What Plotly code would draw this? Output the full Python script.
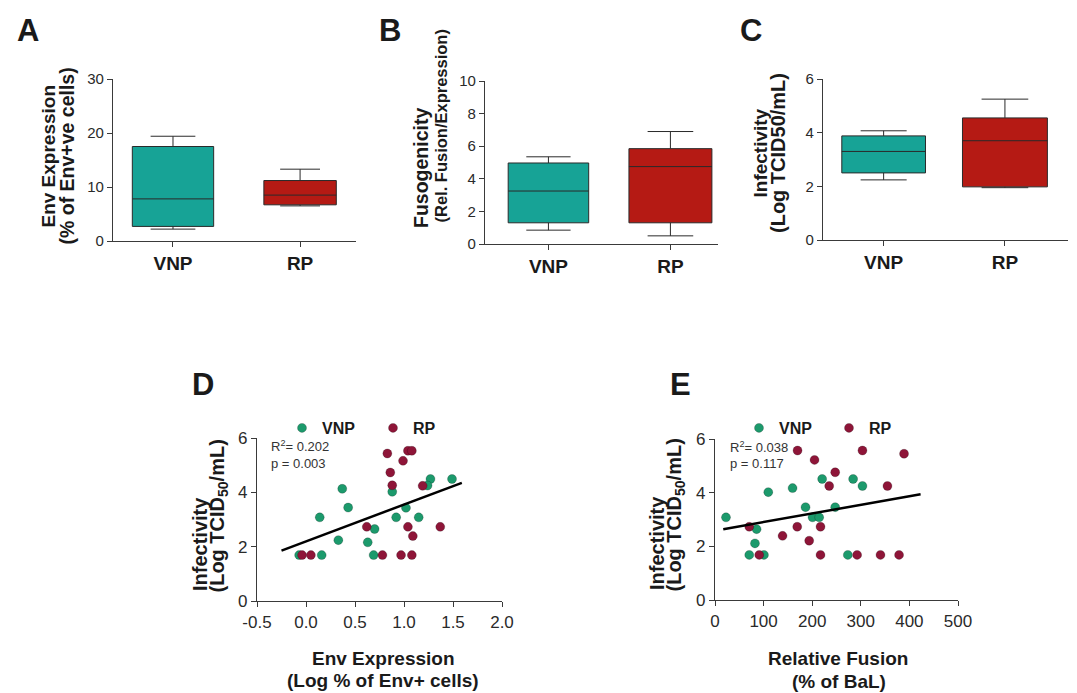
import plotly.graph_objects as go

W, H = 1077, 693
OFF = 8  # page body margin
FW, FH = W - OFF, H - OFF

# ---------------- data ----------------
groups = ["VNP", "RP"]

# Panel A: Env expression (% of Env+ve cells)  [lower, q1, median, q3, upper]
a_vnp = [2.2, 2.7, 7.8, 17.5, 19.4]
a_rp = [6.5, 6.7, 8.5, 11.2, 13.3]
# Panel B: Fusogenicity
b_vnp = [0.85, 1.3, 3.25, 4.97, 5.35]
b_rp = [0.5, 1.3, 4.75, 5.85, 6.9]
# Panel C: Infectivity (Log TCID50/mL)
c_vnp = [2.24, 2.5, 3.3, 3.88, 4.07]
c_rp = [1.95, 1.98, 3.7, 4.55, 5.25]

# Panel D: Env expression (log %) vs infectivity
d_vnp_x = [0.37, 0.43, 0.14, 0.16, 0.70, 0.63, 0.69, 0.88, 1.02, 0.92, 1.15, 1.27, 1.24, 1.49, -0.07, 0.33]
d_vnp_y = [4.13, 3.44, 3.08, 1.69, 2.65, 2.16, 1.69, 4.02, 3.43, 3.08, 3.08, 4.49, 4.25, 4.49, 1.69, 2.24]
d_rp_x = [0.83, 1.04, 1.08, 0.99, 0.86, 0.88, 1.19, 0.62, 1.04, 1.09, 1.37, -0.04, 0.05, 0.78, 0.97, 1.08]
d_rp_y = [5.43, 5.53, 5.53, 5.16, 4.73, 4.26, 4.24, 2.73, 2.73, 2.39, 2.73, 1.69, 1.69, 1.69, 1.69, 1.69]
d_fit = {"slope": 1.355, "intercept": 2.195, "x0": -0.25, "x1": 1.59}
d_stats = ["R<sup>2</sup>= 0.202", "p = 0.003"]

# Panel E: Relative fusion vs infectivity
e_vnp_x = [22.6, 109.6, 159.6, 186.3, 200.7, 214.4, 220.5, 247.3, 284.2, 303.4, 85.6, 82.2, 70.5, 100.7, 273.3]
e_vnp_y = [3.08, 4.02, 4.17, 3.46, 3.08, 3.08, 4.51, 3.46, 4.51, 4.25, 2.64, 2.11, 1.68, 1.68, 1.68]
e_rp_x = [169.8, 204.8, 303.4, 389.0, 247.3, 235.0, 354.8, 70.5, 139.0, 169.2, 217.1, 193.8, 91.0, 217.1, 292.4, 340.5, 378.7]
e_rp_y = [5.57, 5.22, 5.57, 5.45, 4.76, 4.25, 4.25, 2.73, 2.39, 2.73, 2.73, 2.21, 1.68, 1.68, 1.68, 1.68, 1.68]
e_fit = {"slope": 0.0032, "intercept": 2.585, "x0": 17.0, "x1": 423.0}
e_stats = ["R<sup>2</sup>= 0.038", "p = 0.117"]

d_xticks = [-0.5, 0.0, 0.5, 1.0, 1.5, 2.0]
d_xticktext = ["-0.5", "0.0", "0.5", "1.0", "1.5", "2.0"]
e_xticks = [0, 100, 200, 300, 400, 500]

# ---------------- style ----------------
TEAL = "#17a396"
RED = "#b51a14"
GREEN_PT = "#1c9a6c"
RED_PT = "#8e1538"
AX = "#3a3a3a"
FONT = "Liberation Sans, Arial, sans-serif"


def fx(px):
    return (px - OFF) / FW


def fy(py):
    return 1 - (py - OFF) / FH


def xdom(a, b):
    return [fx(a), fx(b)]


def ydom(top, bottom):
    return [fy(bottom), fy(top)]


fig = go.Figure()

box_panels = [
    ("x", "y", a_vnp, a_rp, 0.64, 0.57),
    ("x2", "y2", b_vnp, b_rp, 0.66, 0.68),
    ("x3", "y3", c_vnp, c_rp, 0.69, 0.70),
]
for xa, ya, vnp, rp, wv, wr in box_panels:
    for name, st, col, wd in (("VNP", vnp, TEAL, wv), ("RP", rp, RED, wr)):
        fig.add_trace(go.Box(
            x=[name], lowerfence=[st[0]], q1=[st[1]], median=[st[2]], q3=[st[3]], upperfence=[st[4]],
            fillcolor=col, line=dict(color="#2a2a2a", width=1), width=wd, whiskerwidth=0.55,
            xaxis=xa, yaxis=ya, showlegend=False, hoverinfo="skip"))

# scatter panels
for xs, ys, col, name, xa, ya, lg in (
    (d_vnp_x, d_vnp_y, GREEN_PT, "VNP", "x4", "y4", "legend"),
    (d_rp_x, d_rp_y, RED_PT, "RP", "x4", "y4", "legend"),
    (e_vnp_x, e_vnp_y, GREEN_PT, "VNP", "x5", "y5", "legend2"),
    (e_rp_x, e_rp_y, RED_PT, "RP", "x5", "y5", "legend2"),
):
    fig.add_trace(go.Scatter(x=xs, y=ys, mode="markers", name=name,
                             marker=dict(color=col, size=9, line=dict(width=0.6, color="rgba(0,0,0,0.35)")),
                             xaxis=xa, yaxis=ya, legend=lg, showlegend=True))

for fit, xa, ya in ((d_fit, "x4", "y4"), (e_fit, "x5", "y5")):
    lx = [fit["x0"], fit["x1"]]
    ly = [fit["intercept"] + fit["slope"] * v for v in lx]
    fig.add_trace(go.Scatter(x=lx, y=ly, mode="lines", line=dict(color="black", width=2.5),
                             xaxis=xa, yaxis=ya, showlegend=False, hoverinfo="skip"))

axis_common = dict(showline=True, linecolor=AX, linewidth=1.3, ticks="outside", ticklen=5,
                   tickcolor=AX, tickwidth=1.2, showgrid=False, zeroline=False, automargin=False,
                   tickfont=dict(family=FONT, size=15, color="#2a2a2a"))
cat_x = dict(axis_common, type="category", tickfont=dict(family=FONT, size=19, color="#1a1a1a", weight="bold"))
sc_font = dict(family=FONT, size=17, color="#2a2a2a")

fig.update_layout(
    xaxis=dict(cat_x, domain=xdom(113, 356), range=[-0.472, 1.44], anchor="y"),
    yaxis=dict(axis_common, domain=ydom(79, 241), range=[0, 30], tickvals=[0, 10, 20, 30], anchor="x"),
    xaxis2=dict(cat_x, domain=xdom(485, 718), range=[-0.52, 1.39], anchor="y2"),
    yaxis2=dict(axis_common, domain=ydom(81, 244), range=[0, 10], tickvals=[0, 2, 4, 6, 8, 10], anchor="x2"),
    xaxis3=dict(cat_x, domain=xdom(823, 1068), range=[-0.5, 1.52], anchor="y3"),
    yaxis3=dict(axis_common, domain=ydom(79, 240), range=[0, 6], tickvals=[0, 2, 4, 6], anchor="x3"),
    xaxis4=dict(axis_common, domain=xdom(257, 502), range=[-0.5, 2.0], tickvals=d_xticks,
                ticktext=d_xticktext, anchor="y4", tickfont=sc_font),
    yaxis4=dict(axis_common, domain=ydom(438, 601), range=[0, 6], tickvals=[0, 2, 4, 6], anchor="x4",
                tickfont=sc_font),
    xaxis5=dict(axis_common, domain=xdom(715, 958), range=[0, 500], tickvals=e_xticks, anchor="y5",
                tickfont=sc_font),
    yaxis5=dict(axis_common, domain=ydom(439, 600), range=[0, 6], tickvals=[0, 2, 4, 6], anchor="x5",
                tickfont=sc_font),
    boxmode="overlay",
    width=FW, height=FH, autosize=False,
    margin=dict(l=0, r=0, t=0, b=0, autoexpand=False),
    paper_bgcolor="white", plot_bgcolor="white",
    legend=dict(orientation="h", x=fx(282), y=fy(411), xanchor="left", yanchor="top",
                entrywidth=46, entrywidthmode="pixels", bgcolor="rgba(0,0,0,0)",
                font=dict(family=FONT, size=16, color="#1a1a1a", weight="bold")),
    legend2=dict(orientation="h", x=fx(739), y=fy(411), xanchor="left", yanchor="top",
                 entrywidth=45, entrywidthmode="pixels", bgcolor="rgba(0,0,0,0)",
                 font=dict(family=FONT, size=16, color="#1a1a1a", weight="bold")),
)

ann = []


def add_text(text, x, y, size, bold=False, angle=0, xanchor="center", yanchor="middle", color="#1a1a1a"):
    ann.append(dict(text=text, x=fx(x), y=fy(y), xref="paper", yref="paper", showarrow=False,
                    textangle=angle, xanchor=xanchor, yanchor=yanchor,
                    font=dict(family=FONT, size=size, color=color, weight="bold" if bold else "normal")))


# panel letters
for lt, x, y in (("A", 28, 30), ("B", 390, 31), ("C", 751, 30), ("D", 203, 384), ("E", 680, 384)):
    add_text(lt, x, y, 31, bold=True)

# y-axis titles (each line separately, start-aligned at bottom)
add_text("Env Expression", 48, 230, 19, True, -90, yanchor="bottom")
add_text("(% of Env+ve cells)", 67, 247, 19.5, True, -90, yanchor="bottom")
add_text("Fusogenicity", 421, 230, 19.5, True, -90, yanchor="bottom")
add_text("(Rel. Fusion/Expression)", 440, 225, 16.5, True, -90, yanchor="bottom")
add_text("Infectivity", 760, 200, 19, True, -90, yanchor="bottom")
add_text("(Log TCID50/mL)", 778, 235, 20, True, -90, yanchor="bottom")
add_text("Infectivity", 200, 593, 20, True, -90, yanchor="bottom")
add_text("(Log TCID<sub>50</sub>/mL)", 218, 595, 20, True, -90, yanchor="bottom")
add_text("Infectivity", 657, 592, 20, True, -90, yanchor="bottom")
add_text("(Log TCID<sub>50</sub>/mL)", 675, 594, 20, True, -90, yanchor="bottom")

# x-axis titles for scatter panels
add_text("Env Expression", 383, 658, 19, True)
add_text("(Log % of Env+ cells)", 383, 680, 19, True)
add_text("Relative Fusion", 838, 658, 19, True)
add_text("(% of BaL)", 839, 681, 19, True)

# statistics
add_text(d_stats[0], 269, 446, 13, xanchor="left", color="#333")
add_text(d_stats[1], 269, 463, 13, xanchor="left", color="#333")
add_text(e_stats[0], 728, 447, 13, xanchor="left", color="#333")
add_text(e_stats[1], 728, 463, 13, xanchor="left", color="#333")

fig.update_layout(annotations=ann)
fig.write_html("out.html")
